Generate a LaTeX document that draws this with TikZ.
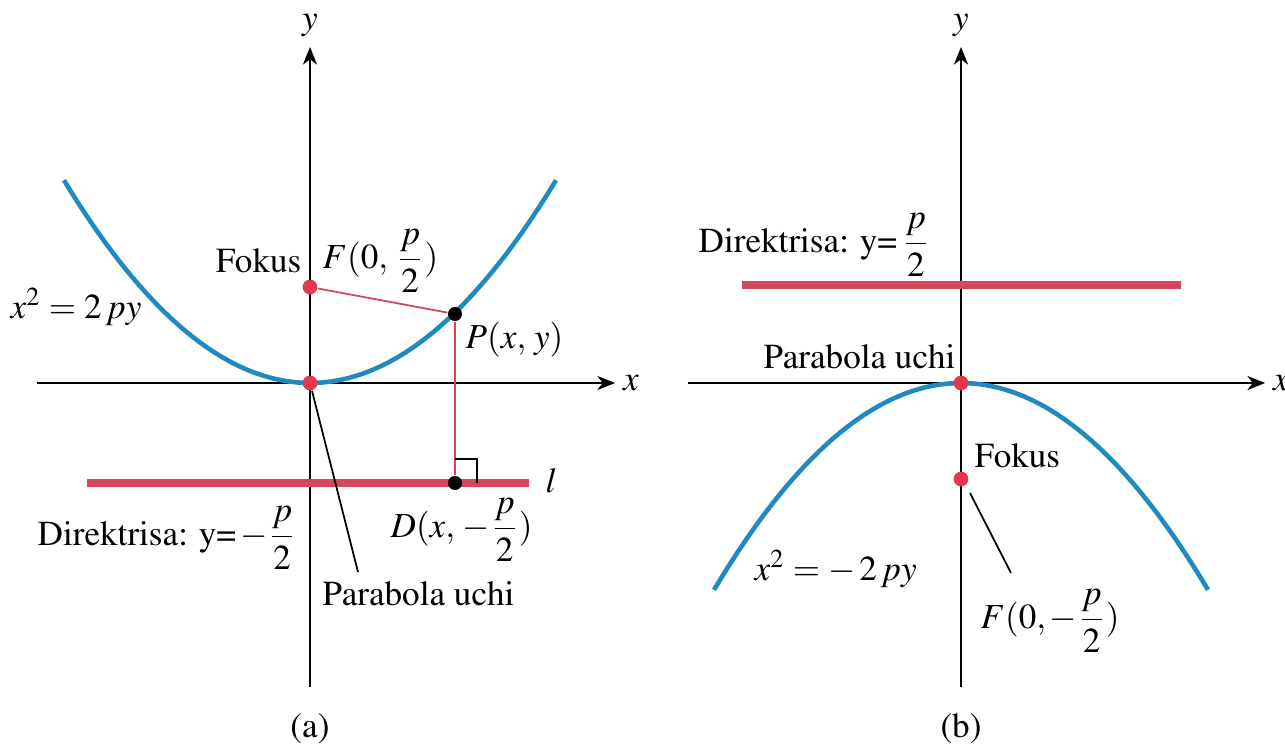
\documentclass[tikz,border=0pt]{standalone}
\usepackage{amsmath}
\usepackage[T1]{fontenc}
\usepackage{mathptmx}
\usetikzlibrary{arrows.meta}
\definecolor{parab}{HTML}{1F8AC0}
\definecolor{dirred}{HTML}{D24660}
\definecolor{dotred}{HTML}{E5384F}

\begin{document}
\begin{tikzpicture}[font=\fontsize{10}{12}\selectfont,
    axis/.style={line width=0.5pt,-{Stealth[length=5pt,width=4pt,inset=1.5pt]}},
    curve/.style={parab,line width=1.3pt},
    dirline/.style={dirred,line width=2pt},
    thinred/.style={dirred,line width=0.5pt},
    reddot/.style={circle,fill=dotred,inner sep=0pt,minimum size=4.2pt},
    blackdot/.style={circle,fill=black,inner sep=0pt,minimum size=4pt},
    lbl/.style={inner sep=0pt}]
  \useasboundingbox (0,0) rectangle (12.85,7.5);

  % (a) opening upwards
  \begin{scope}[shift={(3.10,3.67)}]
    \draw[axis] (-2.73,0) -- (3.05,0);
    \draw[axis] (0,-3.04) -- (0,3.36);
    \node (xa) at (3.21,0) {$x$};
    \node (ya) at (0,3.58) {$y$};
    \draw[curve] plot[domain=-2.46:2.46,samples=60] (\x,{0.335*\x*\x});
    \draw[dirline] (-2.23,-1.00) -- (2.19,-1.00);
    \node[reddot] (Va) at (0,0) {};
    \node[reddot] (Fa) at (0,0.96) {};
    \node[blackdot] (Pa) at (1.45,0.69) {};
    \node[blackdot] (Da) at (1.45,-1.00) {};
    \draw[thinred] (Fa) -- (Pa);
    \draw[thinred] (Pa) -- (Da);
    \draw[line width=0.5pt] (1.45,-0.76) -| (1.67,-1.00);
    \coordinate (uchiA) at (0.48,-1.89);
    \draw[line width=0.5pt] (Va) -- (uchiA);
    \node[lbl,anchor=base east] (fokA) at (-0.08,1.11) {Fokus};
    \node[lbl,anchor=base west] (FA) at (0.12,1.15) {$F(0,\,\dfrac{p}{2})$};
    \node[lbl,anchor=base west] (eqA) at (-3.00,0.65) {$x^2 = 2\,py$};
    \node[lbl,anchor=base west] (PA) at (1.55,0.35) {$P(x,\,y)$};
    \node[lbl,anchor=base west] (lA) at (2.35,-1.09) {$l$};
    \node[lbl,anchor=base west] (DA) at (0.80,-1.54) {$D(x,\,-\dfrac{p}{2})$};
    \node[lbl,anchor=base west] (dirA) at (-2.73,-1.62) {Direktrisa: y=\hspace{0.12em}$-\dfrac{p}{2}$};
    \node[lbl,anchor=base west] (uchiAl) at (0.12,-2.22) {Parabola uchi};
    \node (capa) at (0,-3.46) {(a)};
  \end{scope}

  % (b) opening downwards
  \begin{scope}[shift={(9.61,3.67)}]
    \draw[axis] (-2.73,0) -- (3.04,0);
    \draw[axis] (0,-3.04) -- (0,3.36);
    \node (xb) at (3.20,0) {$x$};
    \node (yb) at (0,3.58) {$y$};
    \draw[curve] plot[domain=-2.47:2.47,samples=60] (\x,{-0.339*\x*\x});
    \draw[dirline] (-2.19,0.98) -- (2.20,0.98);
    \node[reddot] (Vb) at (0,0) {};
    \node[reddot] (Fb) at (0,-0.96) {};
    \coordinate (leadB) at (0.09,-1.10);
    \coordinate (FlabB) at (0.50,-1.90);
    \draw[line width=0.5pt] (leadB) -- (FlabB);
    \node[lbl,anchor=base west] (dirB) at (-2.63,1.31) {Direktrisa: y=\hspace{0.12em}$\dfrac{p}{2}$};
    \node[lbl,anchor=base west] (uchiB) at (-1.98,0.15) {Parabola uchi};
    \node[lbl,anchor=base west] (fokB) at (0.13,-0.84) {Fokus};
    \node[lbl,anchor=base west] (FB) at (0.19,-2.45) {$F(0,-\dfrac{p}{2})$};
    \node[lbl,anchor=base west] (eqB) at (-2.07,-1.97) {$x^2 = -\,2\,py$};
    \node (capb) at (0,-3.46) {(b)};
  \end{scope}
\end{tikzpicture}
\end{document}
